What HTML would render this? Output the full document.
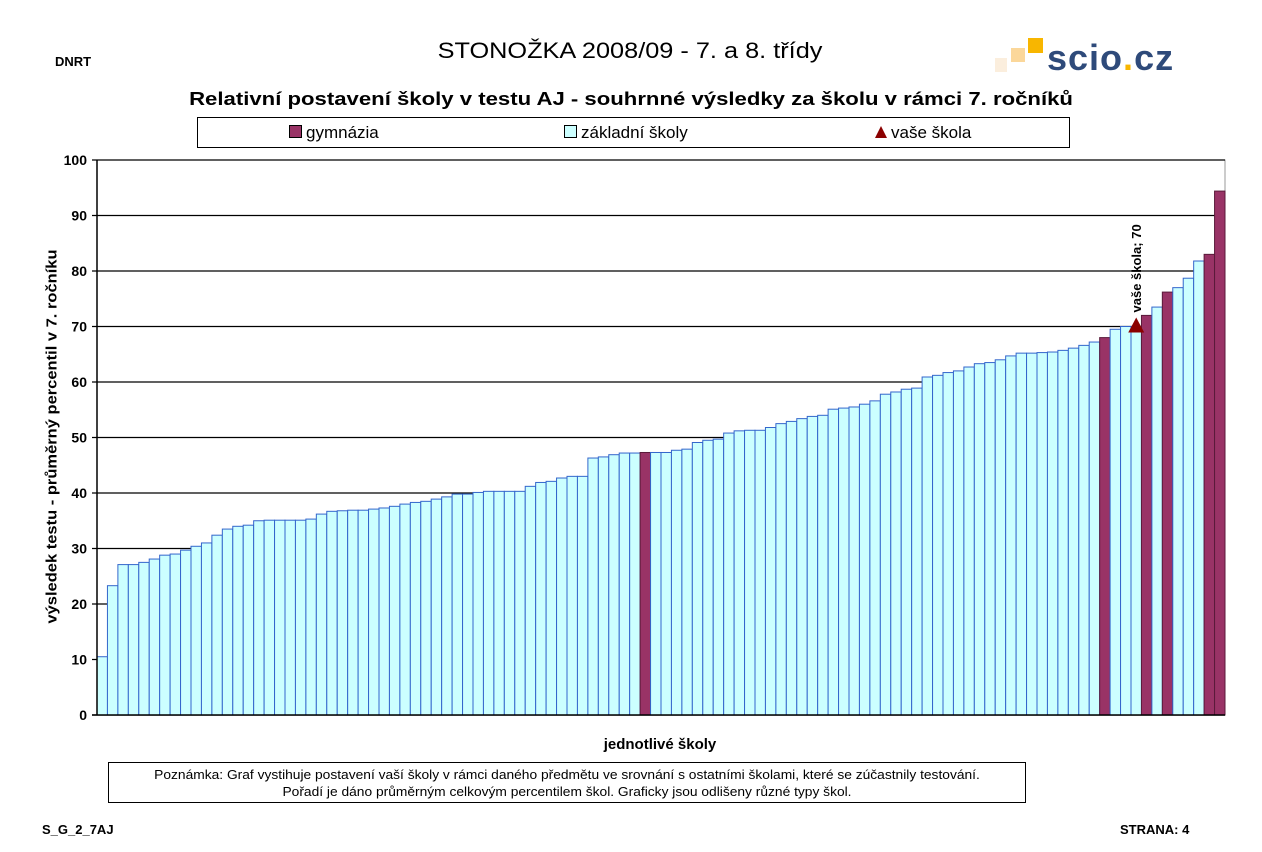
<!DOCTYPE html>
<html><head><meta charset="utf-8">
<style>
body{margin:0;background:#fff;font-family:"Liberation Sans",sans-serif;}
#wrap{position:relative;width:1262px;height:852px;overflow:hidden;}
.abs{position:absolute;}
</style></head><body>
<div id="wrap">
<div class="abs" style="left:55px;top:54px;font-size:13px;font-weight:bold;">DNRT</div>
<div class="abs" style="left:330px;width:600px;top:38px;text-align:center;font-size:22px;transform:scaleX(1.15);">STONOŽKA 2008/09 - 7. a 8. třídy</div>
<div class="abs" style="left:995px;top:36px;width:190px;height:44px;">
  <div class="abs" style="left:0;top:22px;width:12px;height:14px;background:#fbeedd"></div>
  <div class="abs" style="left:16px;top:12px;width:14px;height:14px;background:#fbd79a"></div>
  <div class="abs" style="left:33px;top:2px;width:15px;height:15px;background:#f8b600"></div>
  <div class="abs" style="left:52px;top:2px;font-size:36px;font-weight:bold;color:#2e4a7a;letter-spacing:1px;line-height:40px;">scio<span style="color:#f8b600">.</span>cz</div>
</div>
<div class="abs" style="left:0;width:1262px;top:89px;text-align:center;font-size:18px;font-weight:bold;transform:scaleX(1.23);">Relativní postavení školy v testu AJ - souhrnné výsledky za školu v rámci 7. ročníků</div>
<div class="abs" style="left:197px;top:117px;width:871px;height:29px;border:1px solid #000;font-size:17px;">
  <div class="abs" style="left:91px;top:5px;"><span style="display:inline-block;width:11px;height:11px;background:#993366;border:1px solid #000;margin-right:4px;"></span>gymnázia</div>
  <div class="abs" style="left:366px;top:5px;"><span style="display:inline-block;width:11px;height:11px;background:#ccffff;border:1px solid #000;margin-right:4px;"></span>základní školy</div>
  <div class="abs" style="left:677px;top:5px;"><span style="display:inline-block;width:0;height:0;border-left:6px solid transparent;border-right:6px solid transparent;border-bottom:12px solid #8b0000;margin-right:4px;"></span>vaše škola</div>
</div>
<svg class="abs" style="left:0;top:0" width="1262" height="852" id="chart"></svg>
<div class="abs" style="left:-148px;top:428px;width:400px;text-align:center;transform:rotate(-90deg) scaleX(1.1);font-size:15px;font-weight:bold;">výsledek testu - průměrný percentil v 7. ročníku</div>
<div class="abs" style="left:560px;width:200px;top:736px;text-align:center;font-size:15px;font-weight:bold;">jednotlivé školy</div>
<div class="abs" style="left:108px;top:762px;width:918px;height:41px;border:1px solid #000;font-size:13px;text-align:center;line-height:17px;padding-top:3px;box-sizing:border-box;"><div style="transform:scaleX(1.06);">Poznámka: Graf vystihuje postavení vaší školy v rámci daného předmětu ve srovnání s ostatními školami, které se zúčastnily testování.<br>Pořadí je dáno průměrným celkovým percentilem škol. Graficky jsou odlišeny různé typy škol.</div></div>
<div class="abs" style="left:42px;top:822px;font-size:13px;font-weight:bold;">S_G_2_7AJ</div>
<div class="abs" style="left:1120px;top:822px;font-size:13px;font-weight:bold;">STRANA: 4</div>
</div>
<script>
const values=[10.5,23.3,27.1,27.1,27.5,28.1,28.8,29.0,29.7,30.4,31.0,32.4,33.5,34.0,34.2,35.0,35.1,35.1,35.1,35.1,35.3,36.2,36.7,36.8,36.9,36.9,37.1,37.3,37.6,38.0,38.3,38.5,38.9,39.3,39.8,39.8,40.1,40.3,40.3,40.3,40.3,41.2,41.9,42.1,42.7,43.0,43.0,46.3,46.5,46.9,47.2,47.2,47.3,47.3,47.3,47.7,47.9,49.1,49.5,49.7,50.8,51.2,51.3,51.3,51.8,52.5,52.9,53.4,53.8,54.0,55.1,55.3,55.5,56.0,56.6,57.8,58.2,58.7,58.9,60.9,61.2,61.7,62.0,62.7,63.3,63.5,64.0,64.7,65.2,65.2,65.3,65.4,65.7,66.1,66.6,67.2,68.0,69.5,70.0,70.0,72.0,73.5,76.2,77.0,78.7,81.8,83.0,94.4];
const gymIdx=[52,96,100,102,106,107];
const yTicks=[0,10,20,30,40,50,60,70,80,90,100];
const yourIdx=99;
const yourValue=70;
const NS="http://www.w3.org/2000/svg";
const svg=document.getElementById('chart');
const L=97,R=1225,T=160,B=715;
const y=v=>B-(v/100)*(B-T);
const bw=(R-L)/values.length;
const x=i=>L+i*bw;
function mk(t,a){const e=document.createElementNS(NS,t);for(const k in a)e.setAttribute(k,a[k]);svg.appendChild(e);return e;}
const fr=mk('rect',{x:L,y:T,width:R-L,height:B-T,fill:'none',stroke:'#999','stroke-width':1});


yTicks.forEach(t=>{
  const g=mk('line',{x1:L-5,x2:R,y1:y(t),y2:y(t),stroke:'#000','stroke-width':1.2});
  
  
  const tx=mk('text',{x:L-10,y:y(t)+5,'text-anchor':'end','font-size':14,'font-weight':'bold','font-family':'Liberation Sans, sans-serif'});
  tx.textContent=t;
  
  
});
values.forEach((v,i)=>{
  const g=gymIdx.includes(i);
  const r=mk('rect',{x:x(i),y:y(v),width:bw,height:B-y(v),fill:g?'#993366':'#ccffff',stroke:g?'#5a1a3a':'#3366cc','stroke-width':1});
  
  
});
mk('line',{x1:L,x2:L,y1:T,y2:B,stroke:'#000','stroke-width':1.5});
mk('line',{x1:L-5,x2:R,y1:B,y2:B,stroke:'#000','stroke-width':1.5});
const cx=x(yourIdx)+bw/2, cy=y(yourValue);
const tri=mk('polygon',{points:`${cx-8},${cy+6} ${cx+8},${cy+6} ${cx},${cy-9}`,fill:'#8b0000'});


const lab=mk('text',{x:0,y:0,'font-size':13,'font-weight':'bold','font-family':'Liberation Sans, sans-serif',transform:`translate(${cx+5},${cy-14}) rotate(-90)`});
lab.textContent='vaše škola; '+yourValue;


</script>
</body></html>
